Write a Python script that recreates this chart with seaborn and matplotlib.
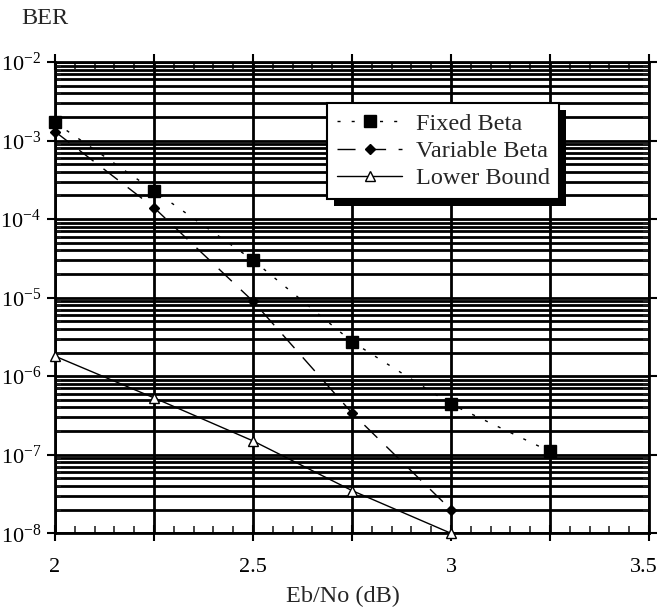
import numpy as np
import pandas as pd
import matplotlib
matplotlib.use("Agg")
import matplotlib.pyplot as plt
import matplotlib.ticker as mticker
import matplotlib.transforms as mtransforms
from matplotlib.patches import Rectangle
from matplotlib.lines import Line2D
import seaborn as sns

# BER curves versus Eb/No
ebno_fixed = [2.0, 2.25, 2.5, 2.75, 3.0, 3.25]
ber_fixed = [1.7e-3, 2.3e-4, 3.0e-5, 2.75e-6, 4.4e-7, 1.1e-7]

ebno_variable = [2.0, 2.25, 2.5, 2.75, 3.0]
ber_variable = [1.3e-3, 1.4e-4, 9.0e-6, 3.4e-7, 2.0e-8]

ebno_bound = [2.0, 2.25, 2.5, 2.75, 3.0]
ber_bound = [1.8e-6, 5.3e-7, 1.5e-7, 3.5e-8, 1.0e-8]

series_names = ["Fixed Beta", "Variable Beta", "Lower Bound"]

df = pd.concat([
    pd.DataFrame({"Eb/No": ebno_fixed, "BER": ber_fixed, "scheme": series_names[0]}),
    pd.DataFrame({"Eb/No": ebno_variable, "BER": ber_variable, "scheme": series_names[1]}),
    pd.DataFrame({"Eb/No": ebno_bound, "BER": ber_bound, "scheme": series_names[2]}),
], ignore_index=True)

sns.set_theme(style="white")
plt.rcParams["font.family"] = ["Liberation Serif", "DejaVu Serif"]
plt.rcParams["mathtext.default"] = "regular"
plt.rcParams["axes.unicode_minus"] = False
FS = 17.5
TICK_FS = 16

fig = plt.figure(figsize=(6.62, 6.13), dpi=100)
ax = fig.add_axes([55 / 662, 1 - 533.3 / 613, 594 / 662, 471.3 / 613])

palette = {n: "black" for n in series_names}
dashes = {
    "Fixed Beta": (2.2, 8),
    "Variable Beta": (13, 9),
    "Lower Bound": "",
}
markers = {"Fixed Beta": "s", "Variable Beta": "D", "Lower Bound": "^"}

sns.lineplot(data=df, x="Eb/No", y="BER", hue="scheme", style="scheme",
             hue_order=series_names, style_order=series_names,
             palette=palette, dashes=dashes, markers=markers,
             linewidth=1.0, legend=False, ax=ax, clip_on=False, zorder=3)

msizes = {"Fixed Beta": 8.5, "Variable Beta": 5.5, "Lower Bound": 7}
lines = ax.lines[:3]
for ln, name in zip(lines, series_names):
    ln.set_markersize(msizes[name])
    ln.set_markeredgecolor("black")
    ln.set_markeredgewidth(1.0)
    ln.set_clip_on(False)
lines[2].set_markerfacecolor("white")

ax.set_yscale("log")
ax.set_xlim(2.0, 3.5)
ax.set_ylim(1e-8, 1e-2)

# x ticks: gridlines every 0.25, labels every 0.5, minor ticks every 0.05
ax.xaxis.set_major_locator(mticker.FixedLocator([2.0, 2.25, 2.5, 2.75, 3.0, 3.25, 3.5]))
ax.xaxis.set_minor_locator(mticker.MultipleLocator(0.05))
ax.xaxis.set_major_formatter(mticker.FuncFormatter(
    lambda v, p: ("%g" % v) if abs(v * 2 - round(v * 2)) < 1e-9 else ""))

ax.yaxis.set_major_locator(mticker.FixedLocator([1e-8, 1e-7, 1e-6, 1e-5, 1e-4, 1e-3, 1e-2]))
ax.yaxis.set_minor_locator(mticker.LogLocator(base=10, subs=np.arange(2, 10), numticks=20))
ax.yaxis.set_minor_formatter(mticker.NullFormatter())
ax.yaxis.set_major_formatter(mticker.FuncFormatter(
    lambda v, p: r"$\mathregular{10^{%d}}$" % int(round(np.log10(v)))))

ax.grid(True, axis="x", which="major", color="black", linewidth=2.0)
ax.grid(True, axis="y", which="both", color="black", linewidth=2.0)
ax.set_axisbelow(True)

ax.tick_params(axis="x", which="major", direction="inout", length=12, width=1.5,
               top=True, bottom=True, labelsize=TICK_FS, pad=12, colors="black")
ax.tick_params(axis="x", which="minor", direction="in", length=5, width=1.2,
               top=True, bottom=True)
ax.tick_params(axis="y", which="major", direction="out", length=6, width=1.5,
               left=True, right=True, labelsize=TICK_FS, pad=4, colors="black")
ax.tick_params(axis="y", which="minor", direction="in", length=4, width=1.2,
               left=True, right=True)

for s in ax.spines.values():
    s.set_visible(True)
    s.set_color("black")
    s.set_linewidth(2.0)

ax.set_xlabel("")
ax.set_ylabel("")
fig.text(21 / 662, 1 - 24 / 613, "BER", fontsize=FS, ha="left", va="baseline")
fig.text(343 / 662, 1 - 602 / 613, "Eb/No (dB)", fontsize=FS, ha="center", va="baseline")

# keep the last x label inside the canvas
fig.canvas.draw()
last = ax.get_xticklabels()[-1]
last.set_transform(last.get_transform() +
                   mtransforms.ScaledTranslation(-5 / 100, 0, fig.dpi_scale_trans))

handles = []
for name, ln in zip(series_names, lines):
    h = Line2D([], [], color="black", linewidth=1.0,
               marker=ln.get_marker(), markersize=ln.get_markersize(),
               markerfacecolor=ln.get_markerfacecolor(), markeredgecolor="black")
    if name != "Lower Bound":
        h.set_dashes(dashes[name])
    handles.append(h)

leg = ax.legend(handles, series_names, loc="upper left",
                bbox_to_anchor=((327 - 55) / 594, (533.3 - 103) / 471.3),
                borderaxespad=0, frameon=True, fancybox=False, fontsize=FS,
                handlelength=2.7, handletextpad=0.55, labelspacing=0.22,
                borderpad=0.4)
leg.get_frame().set_edgecolor("black")
leg.get_frame().set_linewidth(1.5)
leg.get_frame().set_alpha(1)
leg.set_zorder(10)

# solid drop shadow under the legend box
fig.canvas.draw()
bb = leg.get_window_extent()
off = 7
shadow = Rectangle((bb.x0 + off, bb.y0 - off), bb.width, bb.height,
                   transform=None, facecolor="black", edgecolor="none", zorder=9)
ax.add_artist(shadow)

fig.savefig("out.png", dpi=100)
